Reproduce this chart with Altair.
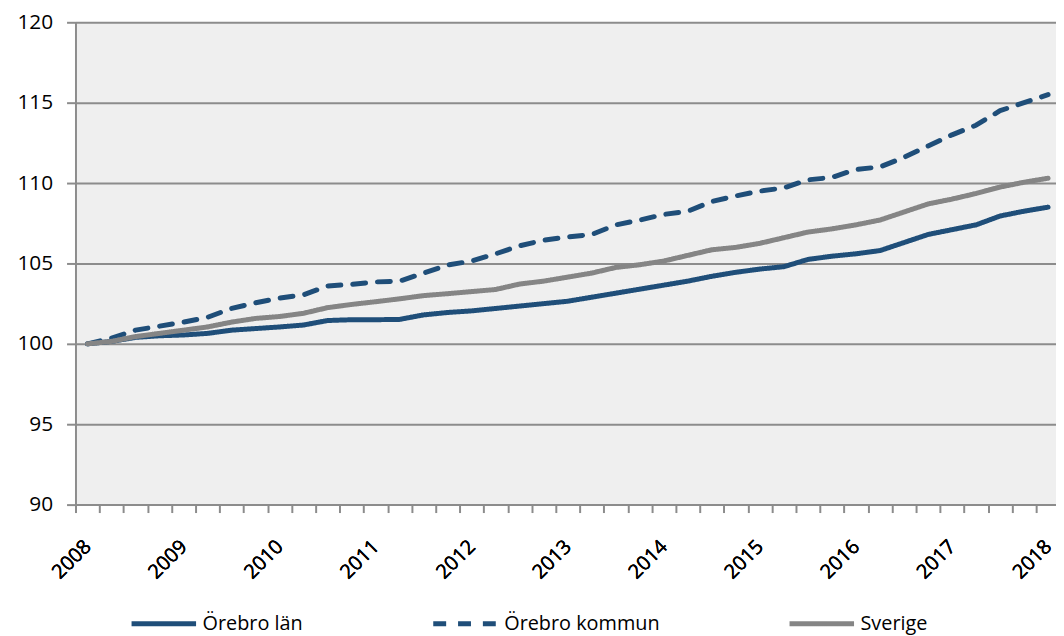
import altair as alt
import pandas as pd

# Kvartal 2008 K1 – 2018 K1 (index 2008 K1 = 100)
years = list(range(2008, 2019))
quarters = [f"{y} K{q}" for y in range(2008, 2019) for q in range(1, 5)][:41]

lan = [100.0, 100.15, 100.4, 100.5, 100.55, 100.65, 100.85, 100.95, 101.05, 101.17,
       101.45, 101.5, 101.5, 101.52, 101.8, 101.95, 102.05, 102.2, 102.35, 102.5,
       102.65, 102.9, 103.15, 103.4, 103.65, 103.9, 104.2, 104.45, 104.65, 104.8,
       105.25, 105.45, 105.6, 105.8, 106.3, 106.8, 107.1, 107.4, 107.95, 108.25,
       108.5]
kommun = [100.0, 100.35, 100.85, 101.1, 101.35, 101.65, 102.2, 102.55, 102.85, 103.05,
          103.6, 103.7, 103.85, 103.9, 104.4, 104.9, 105.15, 105.6, 106.1, 106.45,
          106.65, 106.8, 107.4, 107.7, 108.05, 108.25, 108.85, 109.2, 109.5, 109.7,
          110.2, 110.35, 110.85, 111.0, 111.6, 112.3, 113.0, 113.6, 114.5, 115.0,
          115.5]
sverige = [100.0, 100.15, 100.45, 100.65, 100.85, 101.05, 101.35, 101.58, 101.7, 101.9,
           102.25, 102.45, 102.62, 102.8, 103.0, 103.12, 103.25, 103.38, 103.72, 103.9,
           104.15, 104.4, 104.75, 104.92, 105.15, 105.5, 105.85, 106.0, 106.25, 106.6,
           106.95, 107.15, 107.4, 107.7, 108.2, 108.7, 109.0, 109.35, 109.75, 110.05,
           110.3]

series_names = ["Örebro län", "Örebro kommun", "Sverige"]
series_values = [lan, kommun, sverige]
colors = ["#1f4e79", "#1f4e79", "#858585"]
dashes = [[1, 0], [13, 12], [1, 0]]
y_ticks = [90, 95, 100, 105, 110, 115, 120]

rows = []
for name, vals in zip(series_names, series_values):
    for k, v in enumerate(vals):
        rows.append({"serie": name, "kvartal": quarters[k], "t": 2008 + k / 4, "index": v})
df = pd.DataFrame(rows)

FONT = "Open Sans"
GRID = "#8c8c8c"
x_domain = [2007.875, 2018.0825]
minor_ticks = [2007.875 + 0.25 * k for k in range(41)]

x_scale = alt.Scale(domain=x_domain, nice=False, zero=False)

label_axis = alt.Axis(values=years, format="d", labelAngle=-45, labelAlign="right",
                      labelBaseline="middle", labelPadding=31, ticks=True, tickSize=8,
                      tickOpacity=0, domain=False, grid=False, labelFontSize=20,
                      labelFont=FONT, labelColor="black", labelFlush=False,
                      labelOverlap=False, title=None, orient="bottom")
tick_axis = alt.Axis(values=minor_ticks, labels=False, ticks=True, tickSize=8,
                     tickWidth=2, tickColor=GRID, domain=True, domainColor=GRID,
                     domainWidth=2, grid=False, title=None, orient="bottom")

y_axis = alt.Axis(values=y_ticks, grid=True, gridColor=GRID, gridWidth=2,
                  domainColor=GRID, domainWidth=2, tickColor=GRID, tickSize=9,
                  tickWidth=2, labelPadding=14, labelFontSize=21, labelFont=FONT,
                  labelColor="black", title=None)

legend = alt.Legend(title=None, orient="none", legendX=54, legendY=571,
                    direction="horizontal", symbolType="stroke", symbolSize=4225,
                    symbolStrokeWidth=5, labelFontSize=20, labelFont=FONT,
                    labelColor="black", columnPadding=120, labelOffset=4)

color = alt.Color("serie:N", scale=alt.Scale(domain=series_names, range=colors), legend=legend)
dash = alt.StrokeDash("serie:N", scale=alt.Scale(domain=series_names, range=dashes), legend=legend)

layers = []
for name in series_names:
    layers.append(
        alt.Chart(df).transform_filter(alt.datum.serie == name)
        .mark_line(strokeWidth=5, strokeJoin="round", strokeCap="round")
        .encode(
            x=alt.X("t:Q", scale=x_scale, axis=label_axis),
            y=alt.Y("index:Q", scale=alt.Scale(domain=[90, 120], nice=False, zero=False), axis=y_axis),
            color=color,
            strokeDash=dash,
            order="t:Q",
        )
    )

ticks_layer = alt.Chart(df).mark_point(opacity=0).encode(
    x=alt.X("t:Q", scale=x_scale, axis=tick_axis),
    y=alt.value(0),
)

chart = (
    alt.layer(ticks_layer, *layers)
    .resolve_axis(x="independent")
    .properties(width=988, height=486,
                autosize=alt.AutoSizeParams(type="none"),
                padding={"left": 68, "top": 12, "right": 0, "bottom": 130},
                background="white")
    .configure_view(stroke=None, fill="#efefef")
)

chart.save("out.html", embed_options={"renderer": "svg", "actions": False})
